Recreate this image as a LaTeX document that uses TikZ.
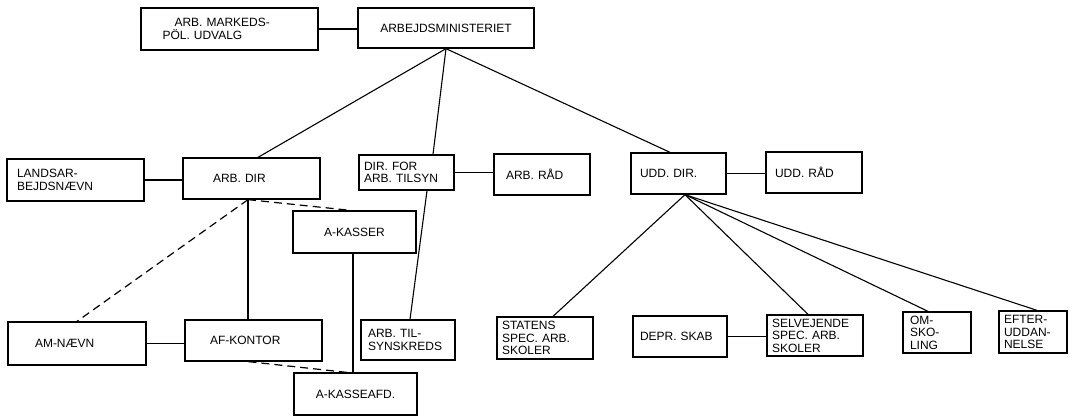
\documentclass[tikz,border=0pt]{standalone}
\usepackage{fontspec}
\setmainfont{Liberation Sans}
\begin{document}
\begin{tikzpicture}[x=1pt,y=-1pt,
  box/.style={draw, line width=1.3pt, inner sep=0pt, font=\fontsize{12}{12.5}\selectfont, align=left},
  cbox/.style={box, align=center},
  conn/.style={line width=1.1pt},
  dconn/.style={line width=1.2pt, dash pattern=on 8pt off 5pt}]
\useasboundingbox (0,0) rectangle (1075,417);
% top row
\node[box, minimum width=177pt, minimum height=42pt, text width=134pt] (mk) at (229.5,29) {\hspace*{12pt}ARB. MARKEDS-\\PÖL. UDVALG};
\node[cbox, minimum width=176pt, minimum height=40pt] (min) at (446,28) {ARBEJDSMINISTERIET};
% middle row
\node[box, minimum width=137pt, minimum height=42pt, text width=117pt] (lan) at (75.5,180) {LANDSAR-\\BEJDSNÆVN};
\node[box, minimum width=137pt, minimum height=41pt, text width=77pt] (adir) at (251.5,178.5) {ARB. DIR};
\node[box, minimum width=95pt, minimum height=35pt, text width=85pt] (dft) at (406.5,172.5) {DIR. FOR\\ARB. TILSYN};
\node[box, minimum width=96pt, minimum height=41pt, text width=72pt] (arad) at (542,174.5) {ARB. RÅD};
\node[box, minimum width=95pt, minimum height=41pt, text width=77pt] (udir) at (678.5,173.5) {UDD. DIR.};
\node[box, minimum width=96pt, minimum height=41pt, text width=78pt] (urad) at (814,172.5) {UDD. RÅD};
\node[cbox, minimum width=123pt, minimum height=42pt] (aks) at (354.5,232) {A-KASSER};
% bottom row
\node[box, minimum width=138pt, minimum height=43pt, text width=84pt] (amn) at (77,343.5) {AM-NÆVN};
\node[box, minimum width=137pt, minimum height=41pt, text width=87pt] (afk) at (253.5,340.5) {AF-KONTOR};
\node[cbox, minimum width=123pt, minimum height=42pt] (akafd) at (355.5,394) {A-KASSEAFD.};
\node[box, minimum width=94pt, minimum height=40pt, text width=80pt] (ats) at (408,340) {ARB. TIL-\\SYNSKREDS};
\node[box, minimum width=96pt, minimum height=42pt, text width=86pt] (sta) at (545,338) {STATENS\\SPEC. ARB.\\SKOLER};
\node[box, minimum width=94pt, minimum height=41pt, text width=80pt] (dep) at (680,336.5) {DEPR. SKAB};
\node[box, minimum width=96pt, minimum height=41pt, text width=86pt] (sel) at (815,335.5) {SELVEJENDE\\SPEC. ARB.\\SKOLER};
\node[box, minimum width=68pt, minimum height=41pt, text width=54pt] (oms) at (937,332.5) {OM-\\SKO-\\LING};
\node[box, minimum width=68pt, minimum height=42pt, text width=58pt] (eft) at (1033,332) {EFTER-\\UDDAN-\\NELSE};
% connectors
\draw[conn] (mk.east) -- (mk.east -| min.west);
\draw[conn] (min.south) -- ([xshift=6.5pt]adir.north);
\draw[conn] (min.south) -- ([xshift=26.5pt]dft.north);
\draw[conn] (min.south) -- ([xshift=-8.5pt]udir.north);
\draw[conn] (lan.east) -- (lan.east -| adir.west);
\draw[conn] (dft.east) -- (dft.east -| arad.west);
\draw[conn] (udir.east) -- (udir.east -| urad.west);
\coordinate (ja) at ([xshift=-3.5pt]adir.south);
\draw[conn] (ja) -- (ja |- afk.north);
\draw[dconn] (ja) -- (amn.north);
\draw[dconn] (ja) -- ([xshift=-4pt]aks.north);
\coordinate (kb) at ([xshift=-1.5pt]aks.south);
\draw[conn] (kb) -- (kb |- akafd.north);
\draw[conn] ([xshift=20.5pt]dft.south) -- ([xshift=2pt]ats.north);
\draw[conn] (amn.east) -- (amn.east -| afk.west);
\draw[dconn] ([xshift=-5pt]afk.south) -- ([xshift=-9pt]akafd.north);
\coordinate (ju) at ([xshift=6.5pt]udir.south);
\draw[conn] (ju) -- ([xshift=8pt]sta.north);
\draw[conn] (ju) -- ([xshift=-7pt]sel.north);
\draw[conn] (ju) -- ([xshift=-9pt]oms.north);
\draw[conn] (ju) -- ([xshift=4pt]eft.north);
\draw[conn] (dep.east) -- (dep.east -| sel.west);
\end{tikzpicture}
\end{document}
